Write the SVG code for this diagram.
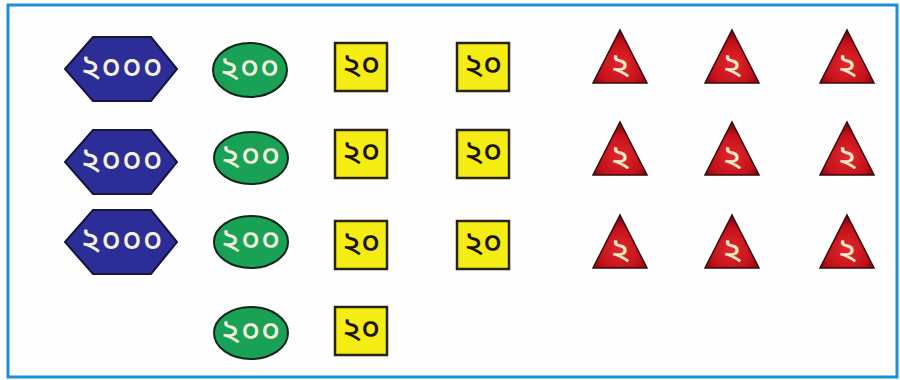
<svg xmlns="http://www.w3.org/2000/svg" width="900" height="380" viewBox="0 0 900 380">
<defs>
<radialGradient id="gr" cx="0.5" cy="0.65" r="0.6">
<stop offset="0" stop-color="#e0282c"/>
<stop offset="0.7" stop-color="#c3101a"/>
<stop offset="1" stop-color="#7a0810"/>
</radialGradient>
</defs>
<style>
.hex{fill:#2c2d96;stroke:#16163d;stroke-width:2}
.ell{fill:#19a155;stroke:#10261a;stroke-width:2}
.sq{fill:#f4ec12;stroke:#2a2418;stroke-width:2.5}
.tri{fill:url(#gr);stroke:#3a0a0a;stroke-width:1.5;stroke-linejoin:miter}
text{font-family:"Noto Sans Bengali","Lohit Bengali","Noto Sans","DejaVu Sans",sans-serif;text-anchor:middle;dominant-baseline:central;font-weight:500}
.lh{fill:#f3f1dc;font-size:33px;letter-spacing:1px}
.lw{fill:#f3f1dc;font-size:32px;letter-spacing:1px}
.lb{fill:#1a1408;font-size:32px}
.lt{fill:#f2e8c8;font-size:32px}
</style>
<rect x="8" y="5" width="889" height="372" fill="#fefefe" stroke="#1c8fd8" stroke-width="3"/>
<g id="hex1" transform="translate(121,69)"><polygon class="hex" points="-56,0 -28,-32 30,-32 56,0 30,32 -28,32"/><text class="lh" x="1">২০০০</text></g>
<g id="hex2" transform="translate(121,162)"><polygon class="hex" points="-56,0 -28,-32 30,-32 56,0 30,32 -28,32"/><text class="lh" x="1">২০০০</text></g>
<g id="hex3" transform="translate(121,242)"><polygon class="hex" points="-56,0 -28,-32 30,-32 56,0 30,32 -28,32"/><text class="lh" x="1">২০০০</text></g>
<g id="ell1" transform="translate(250,70)"><ellipse class="ell" rx="37" ry="27"/><text class="lw">২০০</text></g>
<g id="ell2" transform="translate(251,158)"><ellipse class="ell" rx="37" ry="26"/><text class="lw">২০০</text></g>
<g id="ell3" transform="translate(251,242)"><ellipse class="ell" rx="37" ry="26"/><text class="lw">২০০</text></g>
<g id="ell4" transform="translate(251,333)"><ellipse class="ell" rx="37" ry="26"/><text class="lw">২০০</text></g>
<g id="sq1" transform="translate(361,67)"><rect class="sq" x="-26" y="-24" width="52" height="48"/><text class="lb">২০</text></g>
<g id="sq2" transform="translate(483,67)"><rect class="sq" x="-26" y="-24" width="52" height="48"/><text class="lb">২০</text></g>
<g id="sq3" transform="translate(361,154)"><rect class="sq" x="-26" y="-24" width="52" height="48"/><text class="lb">২০</text></g>
<g id="sq4" transform="translate(483,154)"><rect class="sq" x="-26" y="-24" width="52" height="48"/><text class="lb">২০</text></g>
<g id="sq5" transform="translate(361,245)"><rect class="sq" x="-26" y="-24" width="52" height="48"/><text class="lb">২০</text></g>
<g id="sq6" transform="translate(483,245)"><rect class="sq" x="-26" y="-24" width="52" height="48"/><text class="lb">২০</text></g>
<g id="sq7" transform="translate(361,331)"><rect class="sq" x="-26" y="-24" width="52" height="48"/><text class="lb">২০</text></g>
<g id="tri1" transform="translate(620,30)"><polygon class="tri" points="0,0 27,53 -27,53"/><text class="lt" y="37">২</text></g>
<g id="tri2" transform="translate(732,30)"><polygon class="tri" points="0,0 27,53 -27,53"/><text class="lt" y="37">২</text></g>
<g id="tri3" transform="translate(847,30)"><polygon class="tri" points="0,0 27,53 -27,53"/><text class="lt" y="37">২</text></g>
<g id="tri4" transform="translate(620,122)"><polygon class="tri" points="0,0 27,53 -27,53"/><text class="lt" y="37">২</text></g>
<g id="tri5" transform="translate(732,122)"><polygon class="tri" points="0,0 27,53 -27,53"/><text class="lt" y="37">২</text></g>
<g id="tri6" transform="translate(847,122)"><polygon class="tri" points="0,0 27,53 -27,53"/><text class="lt" y="37">২</text></g>
<g id="tri7" transform="translate(620,215)"><polygon class="tri" points="0,0 27,53 -27,53"/><text class="lt" y="37">২</text></g>
<g id="tri8" transform="translate(732,215)"><polygon class="tri" points="0,0 27,53 -27,53"/><text class="lt" y="37">২</text></g>
<g id="tri9" transform="translate(847,215)"><polygon class="tri" points="0,0 27,53 -27,53"/><text class="lt" y="37">২</text></g>
</svg>
